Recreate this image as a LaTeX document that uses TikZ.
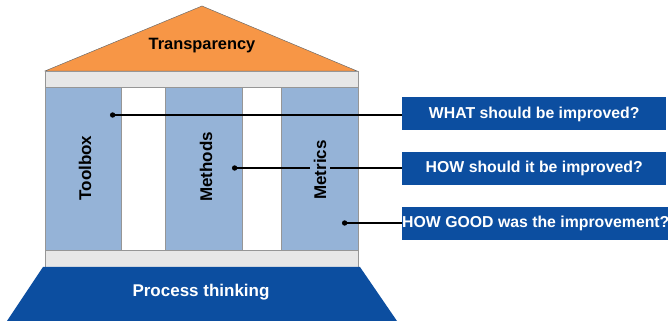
\documentclass[tikz,border=0pt]{standalone}
\usepackage{fontspec}
\setmainfont{Liberation Sans}
\usetikzlibrary{arrows.meta, positioning}
\definecolor{roof}{RGB}{247,150,70}
\definecolor{pillarblue}{RGB}{149,179,215}
\definecolor{deepblue}{RGB}{12,78,160}
\definecolor{bandgray}{RGB}{231,231,231}
\definecolor{edgegray}{RGB}{150,150,150}

\tikzset{
  band/.style={fill=bandgray, draw=edgegray, line width=0.4pt},
  pillar/.style={fill=pillarblue, draw=edgegray, line width=0.4pt},
  pillarlabel/.style={fill=pillarblue, rotate=90, inner sep=3.5pt, font=\bfseries\fontsize{14.5}{16}\selectfont},
  qbox/.style={fill=deepblue, text=white, minimum width=7.92cm, minimum height=0.99cm, inner sep=0pt, anchor=west, font=\bfseries\fontsize{13.5}{15}\selectfont},
  pointer/.style={{Circle[length=4.5pt]}-, line width=1pt, black}
}

\begin{document}
\begin{tikzpicture}[x=0.03cm, y=-0.03cm]
  \useasboundingbox (0,0) rectangle (668,321);
  % roof and beams
  \filldraw[fill=roof, draw=edgegray!70!black, line width=0.4pt] (45,71) -- (202,6) -- (357,71) -- cycle;
  \node[font=\bfseries\fontsize{14}{16}\selectfont] (roofl) at (202,46) {Transparency};
  \draw[band] (45,71) rectangle (358,87);
  \draw[band] (45,250) rectangle (358,267);
  % pillars
  \draw[pillar] (45,87) rectangle (121,250);
  \draw[pillar] (165,87) rectangle (242,250);
  \draw[pillar] (281,87) rectangle (358,250);
  % foundation
  \fill[deepblue] (43,267) -- (360,267) -- (397,321) -- (7,321) -- cycle;
  \node[text=white, font=\bfseries\fontsize{14.5}{16}\selectfont] (base) at (201,292) {Process thinking};
  % questions
  \node[qbox] (q1) at (402,114) {WHAT should be improved?};
  \node[qbox] (q2) at (402,168.5) {HOW should it be improved?};
  \node[qbox] (q3) at (402,223.5) {HOW GOOD was the improvement?};
  \coordinate (d1) at (110,115);
  \coordinate (d2) at (232,168);
  \coordinate (d3) at (342,223);
  \draw[pointer] (d1) -- (d1 -| q1.west);
  \draw[pointer] (d2) -- (d2 -| q2.west);
  \draw[pointer] (d3) -- (d3 -| q3.west);
  % pillar labels
  \node[pillarlabel] (toolbox) at (85,168) {Toolbox};
  \node[pillarlabel] (methods) at (206,167) {Methods};
  \node[pillarlabel] (metrics) at (320,170) {Metrics};
\end{tikzpicture}
\end{document}
